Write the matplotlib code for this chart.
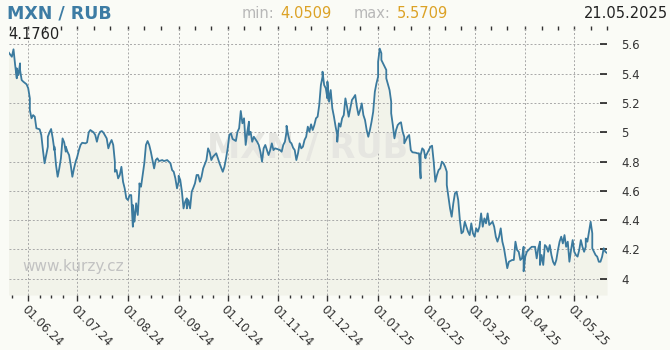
import matplotlib
matplotlib.use("Agg")
import matplotlib.pyplot as plt
import matplotlib.dates as mdates
from matplotlib.ticker import FuncFormatter
import numpy as np
import pandas as pd

# MXN / RUB daily rate, days counted from the start date
start = "2024-05-20"
end = "2025-05-21"
day = [0, 2, 3, 4, 5, 5, 6, 7, 7, 8, 9, 11, 12, 13, 13, 14, 15, 16, 17, 19,
       20, 21, 22, 23, 24, 24, 25, 26, 27, 28, 28, 29, 30, 31, 32, 33, 34, 35, 35, 36,
       37, 38, 39, 40, 41, 42, 43, 44, 45, 47, 48, 49, 50, 52, 53, 54, 55, 56, 57, 58,
       60, 61, 62, 63, 64, 65, 65, 66, 67,
       68, 69, 70, 71, 72, 73, 74, 75, 76, 76, 77, 78, 79, 80, 80, 81, 82, 83, 84, 85,
       86, 87, 88, 89, 90, 91, 92, 94, 95, 97, 99, 100, 101, 102, 103, 104, 104, 105, 106, 107,
       108, 109, 109, 110, 111, 112, 113, 114, 115, 116, 117, 118, 119, 121, 122, 123, 124, 125, 126, 127,
       128, 129, 130, 131, 132, 133, 134, 135, 136, 137, 139, 140, 141, 142, 142,
       143, 144, 145, 146, 147, 147, 148, 149, 150, 152, 153, 154, 155, 156, 157, 158, 159, 160, 161, 162,
       163, 165, 166, 167, 168, 169, 170, 170, 171, 172, 173, 174, 175, 176, 177, 178, 179, 180, 181, 182,
       183, 184, 185, 186, 187, 188, 189, 190, 191, 192, 192, 193, 194, 195, 195, 196, 197, 198, 199, 200,
       201, 201, 202, 203, 204, 205, 206, 207, 208, 209, 210, 211, 212, 213, 214, 215, 216, 217,
       218, 219, 220, 221, 222, 223, 224, 225, 226, 226, 227, 228, 228, 229, 231, 231, 233, 234, 234, 235,
       236, 237, 238, 239, 240, 241, 242, 242, 243, 244, 245, 246, 247, 249, 250, 251, 252, 252, 253, 254,
       255, 255, 256, 257, 258, 259, 260, 261, 262, 263, 264, 265, 266, 267, 268, 268, 269, 270, 271, 272,
       273, 274, 275, 276, 277, 278, 279, 280, 281, 282, 283, 284, 285, 286, 287, 288,
       289, 290, 291, 292, 293, 294, 296, 297, 298, 299, 300, 301, 302, 303, 304, 305, 306, 308, 309, 310,
       311, 312, 313, 314, 315, 315, 316, 317, 319, 320, 322, 323, 324, 325, 325, 326, 327, 328, 329, 330,
       331, 332, 333, 334, 335, 336, 337, 338, 339, 340, 341, 342, 343, 344, 345, 346, 347, 348, 349, 350,
       351, 352, 353, 353, 354, 355, 356, 357, 357, 359, 360, 361, 362, 363, 364, 365, 366]
rate = [5.545, 5.515, 5.566, 5.459, 5.368, 5.436, 5.39, 5.47, 5.425, 5.356, 5.345, 5.327, 5.30, 5.231, 5.151, 5.095, 5.117, 5.106, 5.027, 5.02,
        4.981, 4.878, 4.788, 4.844, 4.901, 4.969, 4.999, 5.022, 4.958, 4.878, 4.901, 4.776, 4.696, 4.753, 4.822, 4.958, 4.931, 4.867, 4.901, 4.867,
        4.844, 4.776, 4.696, 4.753, 4.799, 4.833, 4.878, 4.913, 4.928, 4.924, 4.931, 4.999, 5.015, 4.999, 4.981, 4.935, 4.981, 5.003, 5.008, 4.997,
        4.958, 4.89, 4.924, 4.947, 4.913, 4.799, 4.73, 4.742, 4.685,
        4.708, 4.764, 4.662, 4.617, 4.549, 4.537, 4.571, 4.571, 4.355, 4.503, 4.389, 4.515, 4.435, 4.617, 4.651, 4.628, 4.708, 4.788, 4.913, 4.94,
        4.913, 4.867, 4.81, 4.753, 4.81, 4.822, 4.803, 4.81, 4.803, 4.81, 4.788, 4.742, 4.73, 4.685, 4.617, 4.662, 4.703, 4.674, 4.594, 4.48,
        4.526, 4.549, 4.48, 4.537, 4.48, 4.594, 4.621, 4.651, 4.708, 4.708, 4.662, 4.696, 4.753, 4.81, 4.89, 4.863, 4.81, 4.833, 4.844, 4.856,
        4.822, 4.788, 4.758, 4.73, 4.764, 4.822, 4.89, 4.981, 4.992, 4.954, 4.94, 5.003, 5.027, 5.14, 5.145,
        5.061, 5.095, 4.913, 5.003, 5.072, 4.981, 5.003, 4.935, 4.969, 4.935, 4.913, 4.867, 4.799, 4.89, 4.913, 4.878, 4.844, 4.878, 4.924, 4.878,
        4.89, 4.883, 4.878, 4.867, 4.913, 4.935, 5.003, 5.044, 4.981, 4.935, 4.924, 4.894, 4.878, 4.81, 4.856, 4.924, 4.89, 4.901, 4.947, 4.969,
        5.038, 5.003, 5.054, 5.015, 5.049, 5.095, 5.106, 5.186, 5.322, 5.379, 5.413, 5.322, 5.30, 5.231, 5.345, 5.208, 5.288, 5.163, 5.106, 5.038,
        4.981, 4.935, 5.061, 5.038, 5.095, 5.117, 5.231, 5.174, 5.106, 5.163, 5.22, 5.236, 5.254, 5.174, 5.117, 5.151, 5.197, 5.117,
        5.083, 5.015, 4.969, 5.015, 5.072, 5.14, 5.276, 5.334, 5.379, 5.481, 5.5709, 5.539, 5.493, 5.47, 5.425, 5.368, 5.288, 5.208, 5.129, 5.049,
        4.958, 5.015, 5.049, 5.061, 5.068, 5.003, 4.969, 4.924, 4.947, 4.969, 4.981, 4.878, 4.863, 4.86, 4.856, 4.856, 4.685, 4.844, 4.89, 4.878,
        4.822, 4.833, 4.856, 4.878, 4.901, 4.908, 4.799, 4.662, 4.708, 4.742, 4.753, 4.799, 4.788, 4.764, 4.73, 4.64, 4.56, 4.48, 4.423, 4.515,
        4.583, 4.594, 4.537, 4.401, 4.31, 4.321, 4.389, 4.355, 4.321, 4.298, 4.378, 4.31, 4.287, 4.344, 4.321, 4.355,
        4.446, 4.355, 4.412, 4.378, 4.446, 4.367, 4.389, 4.355, 4.287, 4.253, 4.287, 4.344, 4.253, 4.208, 4.139, 4.072, 4.116, 4.128, 4.128, 4.253,
        4.196, 4.184, 4.128, 4.139, 4.218, 4.0509, 4.15, 4.184, 4.208, 4.218, 4.218, 4.139, 4.208, 4.253, 4.094, 4.162, 4.094, 4.23, 4.218, 4.184,
        4.23, 4.162, 4.116, 4.094, 4.128, 4.196, 4.253, 4.287, 4.241, 4.298, 4.218, 4.253, 4.116, 4.196, 4.264, 4.184, 4.162, 4.151, 4.196, 4.264,
        4.218, 4.184, 4.218, 4.275, 4.253, 4.321, 4.389, 4.31, 4.208, 4.162, 4.151, 4.116, 4.116, 4.15, 4.208, 4.184, 4.176]

y_ticks = [4.0, 4.2, 4.4, 4.6, 4.8, 5.0, 5.2, 5.4, 5.6]
title = "MXN / RUB"
min_txt = "4.0509"
max_txt = "5.5709"
last_date = "21.05.2025"
last_txt = "4.1760"

dates = pd.Timestamp(start) + pd.to_timedelta(day, unit="D")

bg = "#fafbf6"
line_c = "#3b7a9e"

fig = plt.figure(figsize=(6.7, 3.5), dpi=100, facecolor=bg)
ax = fig.add_axes([8.6 / 670, 1 - 295 / 350, (607 - 8.6) / 670, (295 - 26) / 350])
ax.set_facecolor(bg)

ymin, ymax = 3.889, 5.725
ax.fill_between(dates, rate, ymin, color="#f2f3ea", lw=0, zorder=1)
ax.plot(dates, rate, color=line_c, lw=1.3, zorder=4)
ax.set_ylim(ymin, ymax)
ax.set_xlim(pd.Timestamp(start), pd.Timestamp(end))

for s in ax.spines.values():
    s.set_visible(False)

# x axis: months, weekly-ish minor ticks
ax.xaxis.set_major_locator(mdates.MonthLocator(bymonthday=1))
ax.xaxis.set_major_formatter(mdates.DateFormatter("%d.%m.%y"))
ax.xaxis.set_minor_locator(mdates.DayLocator(bymonthday=[8, 15, 22]))
ax.tick_params(axis="x", which="major", direction="out", length=4, width=1,
               color="#333333", labelsize=8.5, labelcolor="#333333", pad=2)
ax.tick_params(axis="x", which="minor", direction="out", length=2, width=1, color="#333333")
for lab in ax.get_xticklabels():
    lab.set_rotation(-45)
    lab.set_ha("left")
    lab.set_va("top")
    lab.set_rotation_mode("anchor")

top = ax.secondary_xaxis("top")
top.xaxis.set_major_locator(mdates.DayLocator(bymonthday=[1, 11, 21]))
top.tick_params(direction="in", length=3, width=1, color="#333333", labelsize=0, labeltop=False)
for s in top.spines.values():
    s.set_visible(False)

# y axis on the right
ax.yaxis.tick_right()
ax.set_yticks(y_ticks)
ax.yaxis.set_major_formatter(FuncFormatter(lambda v, p: "{:g}".format(round(v, 1))))
ax.tick_params(axis="y", direction="in", length=5, width=1.2, color="#222222",
               labelsize=8.5, labelcolor="#333333", pad=10)

ax.grid(True, which="major", linestyle=(0, (2, 2)), color="#a8a8a8", linewidth=0.7, zorder=2)
ax.set_axisbelow(False)
for gl in ax.get_xgridlines() + ax.get_ygridlines():
    gl.set_zorder(2)

# watermarks
ax.text(0.5, 0.545, title, transform=ax.transAxes, ha="center", va="center",
        fontsize=24, fontweight="bold", color="#e6e6e1", zorder=3)
ax.text(22 / 670, 1 - 267 / 350, "www.kurzy.cz", transform=fig.transFigure,
        ha="left", va="center", fontsize=11, color="#c2c2c2", zorder=3)

# header texts
ty = 1 - 18 / 350
fig.text(7 / 670, ty, title, fontsize=12.5, fontweight="bold", color="#3d7ca4", va="baseline")
fig.text(242 / 670, ty, "min:", fontsize=10.5, color="#b8b8b8", va="baseline")
fig.text(280 / 670, ty, min_txt, fontsize=10.5, color="#dca226", va="baseline")
fig.text(354 / 670, ty, "max:", fontsize=10.5, color="#b8b8b8", va="baseline")
fig.text(397 / 670, ty, max_txt, fontsize=10.5, color="#dca226", va="baseline")
fig.text(668 / 670, ty, last_date, fontsize=10.5, color="#222222", va="baseline", ha="right")
fig.text(8 / 670, 1 - 39 / 350, last_txt, fontsize=10.5, color="#222222", va="baseline", zorder=10)

fig.savefig("out.png", dpi=100, facecolor=bg)
